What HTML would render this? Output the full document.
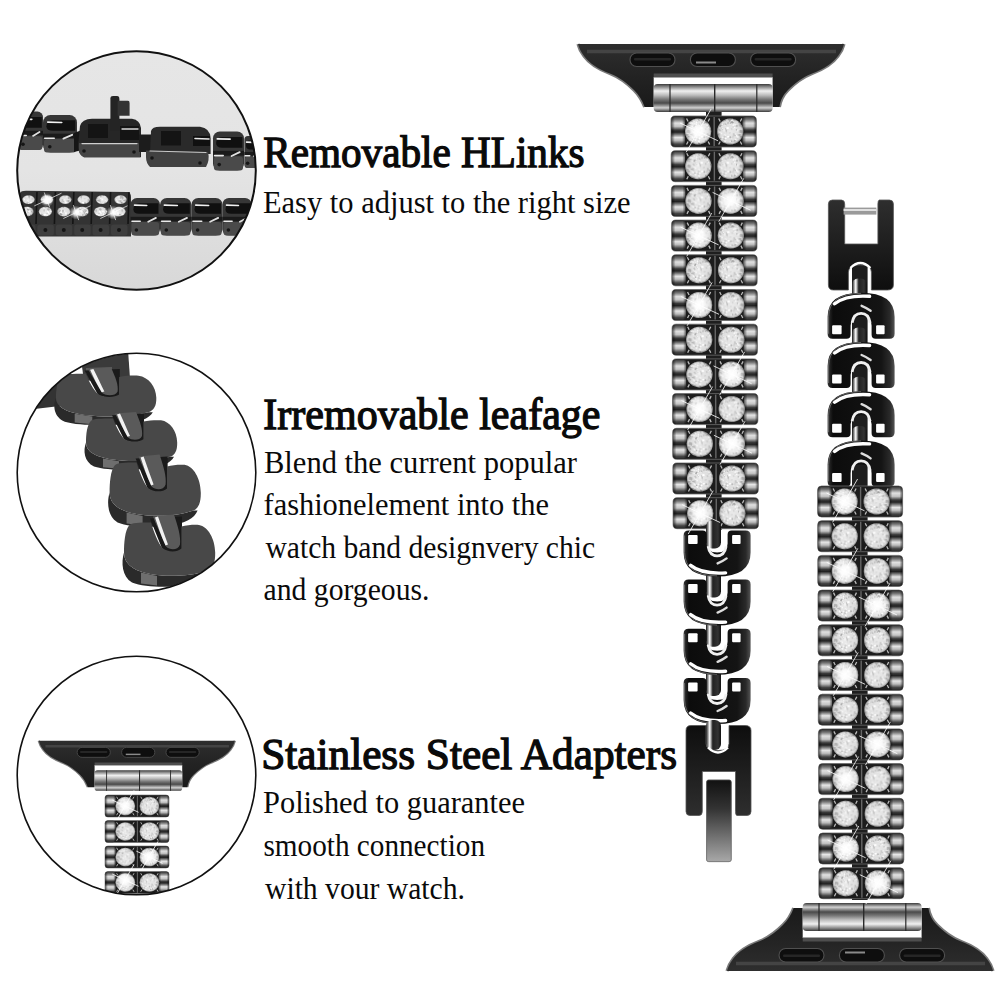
<!DOCTYPE html>
<html><head><meta charset="utf-8"><style>
html,body{margin:0;padding:0;background:#fff;width:1000px;height:1000px;overflow:hidden}
svg{display:block;font-family:"Liberation Serif",serif}
</style></head><body>
<svg width="1000" height="1000" viewBox="0 0 1000 1000">

<defs>
 <linearGradient id="cyl" x1="0" y1="0" x2="0" y2="1">
  <stop offset="0" stop-color="#333"/><stop offset="0.1" stop-color="#777"/>
  <stop offset="0.22" stop-color="#e0e0e0"/><stop offset="0.33" stop-color="#c4c4c4"/>
  <stop offset="0.45" stop-color="#3a3a3a"/><stop offset="0.52" stop-color="#222"/>
  <stop offset="0.6" stop-color="#777"/><stop offset="0.7" stop-color="#e6e6e6"/>
  <stop offset="0.8" stop-color="#bbb"/><stop offset="0.92" stop-color="#444"/><stop offset="1" stop-color="#2a2a2a"/>
 </linearGradient>
 <linearGradient id="cylh" x1="0" y1="0" x2="1" y2="0">
  <stop offset="0" stop-color="#000" stop-opacity="0.55"/><stop offset="0.25" stop-color="#000" stop-opacity="0"/>
  <stop offset="0.8" stop-color="#000" stop-opacity="0"/><stop offset="1" stop-color="#000" stop-opacity="0.5"/>
 </linearGradient>
 <linearGradient id="hinge" x1="0" y1="0" x2="0" y2="1">
  <stop offset="0" stop-color="#3a3a3a"/><stop offset="0.1" stop-color="#888"/>
  <stop offset="0.25" stop-color="#f0f0f0"/><stop offset="0.4" stop-color="#bcbcbc"/>
  <stop offset="0.55" stop-color="#777"/><stop offset="0.68" stop-color="#4a4a4a"/>
  <stop offset="0.85" stop-color="#d0d0d0"/><stop offset="1" stop-color="#3a3a3a"/>
 </linearGradient>
 <radialGradient id="dia" cx="0.5" cy="0.5" r="0.5">
  <stop offset="0" stop-color="#ffffff"/><stop offset="0.55" stop-color="#e6e6e6"/>
  <stop offset="0.85" stop-color="#c4c4c4"/><stop offset="1" stop-color="#8a8a8a"/>
 </radialGradient>
 <radialGradient id="glow" cx="0.5" cy="0.5" r="0.5">
  <stop offset="0" stop-color="#fff" stop-opacity="1"/><stop offset="0.35" stop-color="#fff" stop-opacity="0.85"/>
  <stop offset="0.7" stop-color="#fff" stop-opacity="0.35"/><stop offset="1" stop-color="#fff" stop-opacity="0"/>
 </radialGradient>
 <radialGradient id="diao" cx="0.5" cy="0.5" r="0.5">
  <stop offset="0" stop-color="#fff" stop-opacity="0.35"/><stop offset="0.6" stop-color="#fff" stop-opacity="0"/>
  <stop offset="0.88" stop-color="#000" stop-opacity="0.05"/><stop offset="1" stop-color="#000" stop-opacity="0.35"/>
 </radialGradient>
 <pattern id="spk" width="26" height="26" patternUnits="userSpaceOnUse"><rect width="26" height="26" fill="#e0e0e0"/><rect x="8.4" y="3.9" width="2.0" height="0.9" fill="#c8c8c8" transform="rotate(12 8.4 3.9)"/><rect x="9.5" y="1.5" width="1.8" height="0.9" fill="#ffffff" transform="rotate(53 9.5 1.5)"/><rect x="1.8" y="2.4" width="1.7" height="2.0" fill="#b0b0b0" transform="rotate(28 1.8 2.4)"/><rect x="16.4" y="15.2" width="1.1" height="1.6" fill="#a0a0a0" transform="rotate(28 16.4 15.2)"/><rect x="1.2" y="22.3" width="1.5" height="1.0" fill="#b0b0b0" transform="rotate(73 1.2 22.3)"/><rect x="8.0" y="21.2" width="1.3" height="1.6" fill="#ececec" transform="rotate(47 8.0 21.2)"/><rect x="2.5" y="18.5" width="1.9" height="1.7" fill="#ffffff" transform="rotate(87 2.5 18.5)"/><rect x="13.8" y="20.2" width="1.7" height="2.1" fill="#fafafa" transform="rotate(38 13.8 20.2)"/><rect x="6.5" y="4.7" width="2.2" height="0.9" fill="#f4f4f4" transform="rotate(67 6.5 4.7)"/><rect x="12.9" y="8.9" width="1.7" height="1.7" fill="#b0b0b0" transform="rotate(15 12.9 8.9)"/><rect x="13.3" y="4.3" width="1.5" height="2.1" fill="#ffffff" transform="rotate(5 13.3 4.3)"/><rect x="25.0" y="2.0" width="1.9" height="1.9" fill="#fafafa" transform="rotate(43 25.0 2.0)"/><rect x="18.1" y="15.5" width="1.9" height="1.4" fill="#b0b0b0" transform="rotate(34 18.1 15.5)"/><rect x="12.3" y="17.3" width="1.1" height="1.8" fill="#ffffff" transform="rotate(36 12.3 17.3)"/><rect x="18.6" y="23.1" width="1.6" height="2.1" fill="#fafafa" transform="rotate(21 18.6 23.1)"/><rect x="15.9" y="12.8" width="1.3" height="1.2" fill="#ececec" transform="rotate(50 15.9 12.8)"/><rect x="10.2" y="22.7" width="1.1" height="1.4" fill="#c8c8c8" transform="rotate(35 10.2 22.7)"/><rect x="23.0" y="21.3" width="2.4" height="1.2" fill="#ffffff" transform="rotate(45 23.0 21.3)"/><rect x="17.8" y="9.9" width="1.4" height="0.9" fill="#bcbcbc" transform="rotate(29 17.8 9.9)"/><rect x="17.1" y="0.3" width="2.3" height="1.1" fill="#f4f4f4" transform="rotate(0 17.1 0.3)"/><rect x="3.8" y="13.9" width="2.0" height="1.2" fill="#bcbcbc" transform="rotate(88 3.8 13.9)"/><rect x="22.3" y="24.7" width="2.0" height="1.8" fill="#ffffff" transform="rotate(87 22.3 24.7)"/><rect x="20.7" y="10.2" width="1.6" height="0.9" fill="#ffffff" transform="rotate(7 20.7 10.2)"/><rect x="5.0" y="25.6" width="1.7" height="1.0" fill="#a0a0a0" transform="rotate(13 5.0 25.6)"/><rect x="0.0" y="3.9" width="1.2" height="1.3" fill="#a0a0a0" transform="rotate(9 0.0 3.9)"/><rect x="22.7" y="16.0" width="1.2" height="1.2" fill="#fafafa" transform="rotate(77 22.7 16.0)"/><rect x="9.5" y="3.2" width="2.4" height="2.2" fill="#ffffff" transform="rotate(61 9.5 3.2)"/><rect x="12.6" y="2.2" width="1.2" height="1.3" fill="#f4f4f4" transform="rotate(61 12.6 2.2)"/><rect x="21.6" y="4.2" width="1.0" height="2.1" fill="#c8c8c8" transform="rotate(46 21.6 4.2)"/><rect x="3.8" y="14.1" width="1.0" height="1.5" fill="#b0b0b0" transform="rotate(89 3.8 14.1)"/><rect x="22.0" y="13.5" width="2.5" height="1.3" fill="#ececec" transform="rotate(68 22.0 13.5)"/><rect x="14.1" y="13.1" width="2.0" height="1.7" fill="#ececec" transform="rotate(30 14.1 13.1)"/><rect x="21.3" y="19.2" width="1.4" height="1.5" fill="#fafafa" transform="rotate(3 21.3 19.2)"/><rect x="25.7" y="20.5" width="1.8" height="1.1" fill="#fafafa" transform="rotate(57 25.7 20.5)"/><rect x="21.0" y="18.8" width="1.6" height="2.2" fill="#b0b0b0" transform="rotate(28 21.0 18.8)"/><rect x="2.7" y="12.2" width="1.5" height="1.5" fill="#a0a0a0" transform="rotate(61 2.7 12.2)"/><rect x="23.6" y="8.9" width="2.0" height="2.0" fill="#b0b0b0" transform="rotate(49 23.6 8.9)"/><rect x="20.3" y="19.5" width="1.8" height="1.0" fill="#fafafa" transform="rotate(11 20.3 19.5)"/><rect x="20.8" y="25.3" width="1.6" height="1.4" fill="#b0b0b0" transform="rotate(20 20.8 25.3)"/><rect x="4.4" y="3.3" width="1.2" height="2.1" fill="#bcbcbc" transform="rotate(78 4.4 3.3)"/><rect x="21.5" y="25.5" width="2.1" height="1.3" fill="#c8c8c8" transform="rotate(70 21.5 25.5)"/><rect x="3.4" y="0.4" width="2.6" height="1.7" fill="#c8c8c8" transform="rotate(17 3.4 0.4)"/><rect x="11.3" y="22.7" width="2.3" height="1.1" fill="#f4f4f4" transform="rotate(27 11.3 22.7)"/><rect x="7.6" y="6.3" width="1.9" height="1.2" fill="#ffffff" transform="rotate(16 7.6 6.3)"/><rect x="1.6" y="19.2" width="2.4" height="1.7" fill="#c8c8c8" transform="rotate(53 1.6 19.2)"/><rect x="21.5" y="22.8" width="1.2" height="1.0" fill="#c8c8c8" transform="rotate(2 21.5 22.8)"/><rect x="22.7" y="20.2" width="2.0" height="1.9" fill="#bcbcbc" transform="rotate(22 22.7 20.2)"/><rect x="3.7" y="16.1" width="1.2" height="0.9" fill="#c8c8c8" transform="rotate(67 3.7 16.1)"/><rect x="14.4" y="20.4" width="1.2" height="1.6" fill="#ececec" transform="rotate(24 14.4 20.4)"/><rect x="7.2" y="20.1" width="1.8" height="1.6" fill="#b0b0b0" transform="rotate(56 7.2 20.1)"/><rect x="8.5" y="25.3" width="2.0" height="1.1" fill="#f4f4f4" transform="rotate(57 8.5 25.3)"/><rect x="13.2" y="21.0" width="1.8" height="1.1" fill="#c8c8c8" transform="rotate(33 13.2 21.0)"/><rect x="24.0" y="23.2" width="1.3" height="1.4" fill="#ffffff" transform="rotate(15 24.0 23.2)"/><rect x="10.2" y="8.2" width="2.1" height="1.4" fill="#ececec" transform="rotate(85 10.2 8.2)"/><rect x="7.9" y="3.2" width="2.2" height="2.1" fill="#fafafa" transform="rotate(18 7.9 3.2)"/><rect x="6.6" y="3.6" width="1.7" height="1.8" fill="#b0b0b0" transform="rotate(50 6.6 3.6)"/><rect x="23.0" y="4.2" width="2.1" height="1.1" fill="#ffffff" transform="rotate(65 23.0 4.2)"/><rect x="10.5" y="11.0" width="1.6" height="0.9" fill="#fafafa" transform="rotate(2 10.5 11.0)"/><rect x="8.8" y="11.9" width="2.1" height="1.3" fill="#c8c8c8" transform="rotate(79 8.8 11.9)"/><rect x="7.7" y="25.0" width="1.2" height="2.1" fill="#ececec" transform="rotate(13 7.7 25.0)"/><rect x="2.2" y="7.1" width="2.4" height="1.1" fill="#bcbcbc" transform="rotate(54 2.2 7.1)"/><rect x="22.1" y="17.6" width="2.5" height="1.4" fill="#c8c8c8" transform="rotate(65 22.1 17.6)"/><rect x="14.8" y="18.2" width="1.1" height="0.9" fill="#bcbcbc" transform="rotate(54 14.8 18.2)"/><rect x="23.3" y="7.0" width="1.0" height="0.9" fill="#f4f4f4" transform="rotate(10 23.3 7.0)"/><rect x="15.8" y="5.8" width="1.4" height="1.0" fill="#a0a0a0" transform="rotate(43 15.8 5.8)"/><rect x="25.9" y="10.9" width="2.5" height="1.7" fill="#a0a0a0" transform="rotate(67 25.9 10.9)"/><rect x="18.4" y="24.4" width="2.6" height="1.2" fill="#bcbcbc" transform="rotate(25 18.4 24.4)"/><rect x="24.2" y="16.3" width="1.8" height="1.1" fill="#ffffff" transform="rotate(64 24.2 16.3)"/><rect x="17.5" y="7.0" width="2.3" height="2.2" fill="#a0a0a0" transform="rotate(1 17.5 7.0)"/><rect x="0.5" y="13.1" width="2.6" height="1.5" fill="#ececec" transform="rotate(57 0.5 13.1)"/><rect x="2.8" y="21.3" width="1.7" height="1.5" fill="#ffffff" transform="rotate(64 2.8 21.3)"/><rect x="8.0" y="5.6" width="1.4" height="1.1" fill="#bcbcbc" transform="rotate(51 8.0 5.6)"/><rect x="25.7" y="25.5" width="2.3" height="0.8" fill="#f4f4f4" transform="rotate(55 25.7 25.5)"/><rect x="4.2" y="2.2" width="2.3" height="2.0" fill="#f4f4f4" transform="rotate(76 4.2 2.2)"/><rect x="6.3" y="7.6" width="1.7" height="1.0" fill="#ffffff" transform="rotate(0 6.3 7.6)"/><rect x="6.8" y="25.0" width="2.6" height="1.6" fill="#ececec" transform="rotate(4 6.8 25.0)"/><rect x="25.1" y="8.0" width="1.6" height="0.8" fill="#ffffff" transform="rotate(10 25.1 8.0)"/><rect x="12.3" y="13.1" width="1.3" height="1.5" fill="#a0a0a0" transform="rotate(11 12.3 13.1)"/><rect x="6.9" y="2.3" width="1.6" height="0.9" fill="#a0a0a0" transform="rotate(38 6.9 2.3)"/><rect x="7.9" y="6.1" width="1.9" height="1.5" fill="#bcbcbc" transform="rotate(84 7.9 6.1)"/><rect x="23.2" y="20.4" width="2.0" height="1.9" fill="#ffffff" transform="rotate(19 23.2 20.4)"/><rect x="7.4" y="16.1" width="1.2" height="2.0" fill="#c8c8c8" transform="rotate(80 7.4 16.1)"/><rect x="11.2" y="18.2" width="1.8" height="2.1" fill="#c8c8c8" transform="rotate(72 11.2 18.2)"/><rect x="21.7" y="20.9" width="2.3" height="1.6" fill="#ececec" transform="rotate(10 21.7 20.9)"/><rect x="0.8" y="3.5" width="1.6" height="0.9" fill="#ffffff" transform="rotate(71 0.8 3.5)"/><rect x="1.3" y="0.5" width="1.9" height="1.1" fill="#f4f4f4" transform="rotate(0 1.3 0.5)"/><rect x="11.9" y="1.8" width="2.5" height="2.1" fill="#b0b0b0" transform="rotate(84 11.9 1.8)"/><rect x="13.7" y="19.4" width="1.8" height="1.9" fill="#f4f4f4" transform="rotate(30 13.7 19.4)"/><rect x="19.0" y="5.3" width="2.2" height="2.2" fill="#ffffff" transform="rotate(48 19.0 5.3)"/><rect x="2.0" y="23.7" width="1.5" height="0.9" fill="#ececec" transform="rotate(9 2.0 23.7)"/><rect x="15.6" y="8.6" width="2.0" height="1.8" fill="#bcbcbc" transform="rotate(1 15.6 8.6)"/><rect x="12.5" y="12.6" width="2.6" height="0.9" fill="#ececec" transform="rotate(86 12.5 12.6)"/><rect x="12.7" y="18.4" width="1.5" height="1.5" fill="#b0b0b0" transform="rotate(70 12.7 18.4)"/><rect x="5.2" y="25.4" width="2.5" height="0.8" fill="#ffffff" transform="rotate(9 5.2 25.4)"/><rect x="21.3" y="25.2" width="1.7" height="1.2" fill="#ececec" transform="rotate(26 21.3 25.2)"/><rect x="1.9" y="2.3" width="2.2" height="1.2" fill="#fafafa" transform="rotate(16 1.9 2.3)"/><rect x="15.7" y="16.4" width="1.4" height="1.0" fill="#fafafa" transform="rotate(29 15.7 16.4)"/><rect x="12.9" y="22.8" width="1.6" height="1.0" fill="#ffffff" transform="rotate(87 12.9 22.8)"/><rect x="11.7" y="7.9" width="1.2" height="1.3" fill="#fafafa" transform="rotate(15 11.7 7.9)"/><rect x="21.8" y="0.0" width="2.2" height="2.0" fill="#b0b0b0" transform="rotate(25 21.8 0.0)"/><rect x="18.5" y="23.4" width="1.5" height="1.3" fill="#ffffff" transform="rotate(49 18.5 23.4)"/><rect x="26.0" y="15.3" width="1.6" height="1.4" fill="#f4f4f4" transform="rotate(6 26.0 15.3)"/><rect x="7.3" y="1.3" width="2.1" height="1.7" fill="#bcbcbc" transform="rotate(31 7.3 1.3)"/><rect x="25.2" y="11.3" width="1.5" height="1.9" fill="#ffffff" transform="rotate(3 25.2 11.3)"/><rect x="21.1" y="16.4" width="2.5" height="2.1" fill="#c8c8c8" transform="rotate(26 21.1 16.4)"/><rect x="18.7" y="1.3" width="2.2" height="1.4" fill="#bcbcbc" transform="rotate(82 18.7 1.3)"/><rect x="22.6" y="12.6" width="2.5" height="1.6" fill="#bcbcbc" transform="rotate(60 22.6 12.6)"/><rect x="10.8" y="7.3" width="1.4" height="1.8" fill="#f4f4f4" transform="rotate(51 10.8 7.3)"/><rect x="17.1" y="7.8" width="1.9" height="1.4" fill="#bcbcbc" transform="rotate(82 17.1 7.8)"/><rect x="4.2" y="5.4" width="2.4" height="1.5" fill="#ececec" transform="rotate(57 4.2 5.4)"/><rect x="23.6" y="25.9" width="1.7" height="1.0" fill="#ececec" transform="rotate(31 23.6 25.9)"/><rect x="2.4" y="8.9" width="1.1" height="1.1" fill="#f4f4f4" transform="rotate(72 2.4 8.9)"/><rect x="5.3" y="0.5" width="2.4" height="1.3" fill="#c8c8c8" transform="rotate(26 5.3 0.5)"/><rect x="9.8" y="8.8" width="1.1" height="1.2" fill="#fafafa" transform="rotate(16 9.8 8.8)"/><rect x="17.9" y="13.8" width="2.3" height="2.0" fill="#b0b0b0" transform="rotate(34 17.9 13.8)"/><rect x="23.3" y="10.0" width="2.0" height="1.4" fill="#f4f4f4" transform="rotate(2 23.3 10.0)"/><rect x="3.3" y="11.1" width="2.2" height="1.9" fill="#ffffff" transform="rotate(0 3.3 11.1)"/><rect x="1.9" y="24.2" width="2.5" height="1.5" fill="#ffffff" transform="rotate(57 1.9 24.2)"/><rect x="6.5" y="2.8" width="1.2" height="1.5" fill="#b0b0b0" transform="rotate(89 6.5 2.8)"/><rect x="16.8" y="19.9" width="1.7" height="1.6" fill="#a0a0a0" transform="rotate(0 16.8 19.9)"/><rect x="20.3" y="6.0" width="2.5" height="1.7" fill="#f4f4f4" transform="rotate(16 20.3 6.0)"/><rect x="16.3" y="13.7" width="1.7" height="1.9" fill="#b0b0b0" transform="rotate(9 16.3 13.7)"/><rect x="7.8" y="24.5" width="1.3" height="1.2" fill="#a0a0a0" transform="rotate(1 7.8 24.5)"/><rect x="14.0" y="25.9" width="1.4" height="1.2" fill="#ececec" transform="rotate(60 14.0 25.9)"/><rect x="13.7" y="14.2" width="1.0" height="1.4" fill="#f4f4f4" transform="rotate(7 13.7 14.2)"/><rect x="0.6" y="13.0" width="2.1" height="1.4" fill="#f4f4f4" transform="rotate(29 0.6 13.0)"/><rect x="17.4" y="24.1" width="1.4" height="0.8" fill="#fafafa" transform="rotate(53 17.4 24.1)"/><rect x="9.4" y="10.3" width="1.0" height="1.2" fill="#c8c8c8" transform="rotate(8 9.4 10.3)"/><rect x="5.3" y="25.2" width="1.5" height="1.9" fill="#ececec" transform="rotate(59 5.3 25.2)"/><rect x="5.8" y="19.8" width="1.5" height="2.1" fill="#ffffff" transform="rotate(78 5.8 19.8)"/><rect x="4.9" y="5.8" width="1.7" height="1.7" fill="#bcbcbc" transform="rotate(50 4.9 5.8)"/><rect x="1.4" y="0.6" width="2.0" height="1.4" fill="#a0a0a0" transform="rotate(23 1.4 0.6)"/><rect x="10.2" y="23.4" width="2.4" height="1.8" fill="#b0b0b0" transform="rotate(21 10.2 23.4)"/><rect x="8.6" y="4.8" width="2.5" height="1.8" fill="#a0a0a0" transform="rotate(39 8.6 4.8)"/><rect x="17.3" y="9.8" width="1.6" height="1.3" fill="#bcbcbc" transform="rotate(13 17.3 9.8)"/><rect x="0.1" y="7.3" width="1.6" height="2.1" fill="#b0b0b0" transform="rotate(71 0.1 7.3)"/><rect x="25.1" y="5.4" width="1.6" height="2.0" fill="#ffffff" transform="rotate(11 25.1 5.4)"/><rect x="1.3" y="12.3" width="1.6" height="2.1" fill="#ececec" transform="rotate(41 1.3 12.3)"/><rect x="9.5" y="23.3" width="1.0" height="1.4" fill="#ffffff" transform="rotate(5 9.5 23.3)"/><rect x="9.8" y="12.1" width="2.3" height="0.9" fill="#ececec" transform="rotate(8 9.8 12.1)"/><rect x="23.4" y="8.8" width="1.4" height="2.1" fill="#a0a0a0" transform="rotate(33 23.4 8.8)"/><rect x="19.4" y="17.9" width="2.5" height="1.2" fill="#b0b0b0" transform="rotate(3 19.4 17.9)"/><rect x="21.5" y="2.8" width="2.1" height="1.5" fill="#ffffff" transform="rotate(32 21.5 2.8)"/><rect x="23.8" y="21.2" width="1.2" height="1.5" fill="#a0a0a0" transform="rotate(38 23.8 21.2)"/><rect x="21.4" y="20.1" width="2.0" height="1.3" fill="#fafafa" transform="rotate(58 21.4 20.1)"/><rect x="9.4" y="20.3" width="1.1" height="1.1" fill="#bcbcbc" transform="rotate(31 9.4 20.3)"/><rect x="10.6" y="16.9" width="1.8" height="1.6" fill="#bcbcbc" transform="rotate(54 10.6 16.9)"/><rect x="23.0" y="25.7" width="1.4" height="0.9" fill="#b0b0b0" transform="rotate(53 23.0 25.7)"/><rect x="13.0" y="18.5" width="1.7" height="1.1" fill="#ffffff" transform="rotate(58 13.0 18.5)"/><rect x="16.1" y="17.5" width="2.2" height="2.0" fill="#b0b0b0" transform="rotate(37 16.1 17.5)"/></pattern>
 <linearGradient id="adp" x1="0" y1="0" x2="0" y2="1">
  <stop offset="0" stop-color="#2e2e2e"/><stop offset="0.5" stop-color="#232323"/>
  <stop offset="1" stop-color="#1a1a1a"/>
 </linearGradient>
 <linearGradient id="blk" x1="0" y1="0" x2="1" y2="0">
  <stop offset="0" stop-color="#333"/><stop offset="0.08" stop-color="#0c0c0c"/>
  <stop offset="0.8" stop-color="#141414"/><stop offset="0.93" stop-color="#2a2a2a"/><stop offset="1" stop-color="#555"/>
 </linearGradient>
 <linearGradient id="Hg" x1="0" y1="0" x2="0" y2="1">
  <stop offset="0" stop-color="#0e0e0e"/><stop offset="1" stop-color="#2e2e2e"/>
 </linearGradient>
 <linearGradient id="tongue" x1="0" y1="0" x2="0" y2="1">
  <stop offset="0" stop-color="#111"/><stop offset="0.35" stop-color="#333"/>
  <stop offset="1" stop-color="#a8a8a8"/>
 </linearGradient>
 <linearGradient id="post" x1="0" y1="0" x2="1" y2="0">
  <stop offset="0" stop-color="#111"/><stop offset="0.25" stop-color="#fff"/>
  <stop offset="0.45" stop-color="#222"/><stop offset="0.8" stop-color="#333"/><stop offset="1" stop-color="#111"/>
 </linearGradient>
 <linearGradient id="c1bg" x1="0" y1="0" x2="0" y2="1">
  <stop offset="0" stop-color="#e6e6e6"/><stop offset="0.5" stop-color="#e4e4e4"/><stop offset="1" stop-color="#d8d8d8"/>
 </linearGradient>
 <clipPath id="c1"><circle cx="136.5" cy="170.5" r="119"/></clipPath>
 <clipPath id="c2"><circle cx="136.5" cy="472.5" r="119"/></clipPath>
 <clipPath id="c3"><circle cx="136.5" cy="775.5" r="119"/></clipPath>

 <!-- diamond link 85x31 -->
 <g id="dlink">
  <rect x="0" y="0" width="85" height="31" rx="4" fill="#1c1c1c" stroke="#6a6a6a" stroke-width="0.8"/>
  <rect x="0.5" y="0.5" width="13.2" height="30" rx="3" fill="url(#cyl)"/>
  <rect x="0.5" y="0.5" width="13.2" height="30" rx="3" fill="url(#cylh)"/>
  <rect x="71.5" y="0.5" width="13" height="30" rx="3" fill="url(#cyl)"/>
  <rect x="71.5" y="0.5" width="13" height="30" rx="3" fill="url(#cylh)"/>
  <circle cx="27" cy="15.5" r="13" fill="url(#spk)"/>
  <circle cx="59" cy="15.5" r="13" fill="url(#spk)"/>
  <circle cx="27" cy="15.5" r="13" fill="url(#diao)"/>
  <circle cx="59" cy="15.5" r="13" fill="url(#diao)"/>
  <rect x="42.3" y="1" width="1.4" height="29" fill="#666"/>
  <path d="M15.5,2.5 l1.5,3 M38.5,2.5 l-1.5,3 M15.5,28.5 l1.5,-3 M38.5,28.5 l-1.5,-3 M47.5,2.5 l1.5,3 M70.5,2.5 l-1.5,3 M47.5,28.5 l1.5,-3 M70.5,28.5 l-1.5,-3" stroke="#bbb" stroke-width="1.3"/>
 </g>

 <!-- adapter 266 wide, origin top-left -->
 <g id="adapter">
  <path d="M0,0 C1,4 3,8 6,12 C11,19 20,25 32.5,29.7 C42,33.5 50,40 56,46 C61,51 64,56 66.7,63 M266,0 C265,4 263,8 260,12 C255,19 246,25 233.5,29.7 C224,33.5 216,40 210,46 C205,51 202.5,56 201.4,63" stroke="#7a7a7a" stroke-width="3.2" fill="none"/>
  <path d="M0,0 L266,0 C265,4 263,8 260,12 C255,19 246,25 233.5,29.7 C224,33.5 216,40 210,46 C205,51 202.5,56 201.4,63 L194.6,63 L194.6,33 L75.7,33 L75.7,63 L66.7,63 C64,56 61,51 56,46 C50,40 42,33.5 32.5,29.7 C20,25 11,19 6,12 C3,8 1,4 0,0 Z" fill="url(#adp)"/>
  <path d="M9,7.5 L258,7.5" stroke="#444" stroke-width="3.4"/>
  <rect x="52" y="9" width="45" height="13.5" rx="6.7" fill="#0e0e0e" stroke="#505050" stroke-width="1.1"/>
  <rect x="112.4" y="9" width="45" height="13.5" rx="6.7" fill="#0e0e0e" stroke="#505050" stroke-width="1.1"/>
  <rect x="172.6" y="9" width="45" height="13.5" rx="6.7" fill="#0e0e0e" stroke="#505050" stroke-width="1.1"/>
  <rect x="56" y="14" width="37" height="2.5" rx="1" fill="#262626"/>
  <rect x="176.6" y="14" width="37" height="2.5" rx="1" fill="#262626"/>
  <rect x="118" y="17.5" width="20" height="2" fill="#8a8a8a"/>
  <rect x="75.7" y="29.5" width="118.9" height="4" fill="#4e4e4e"/>
  <rect x="75.7" y="40" width="118.9" height="28" rx="4" fill="url(#hinge)"/>
  <rect x="91.4" y="40" width="1.2" height="28" fill="#2a2a2a"/>
  <rect x="136" y="40" width="1.4" height="28" fill="#2a2a2a"/>
  <rect x="178.2" y="40" width="1.2" height="28" fill="#2a2a2a"/>
 </g>

 <!-- leaf U link 67x46, opening up -->
 <g id="leaf">
  <path d="M0,5 Q0,0 5,0 L19,0 Q23,0 23,4 L23,13 Q23,22 33.5,22 Q44,22 44,13 L44,4 Q44,0 48,0 L62,0 Q67,0 67,5 L67,22 Q67,46 33.5,46 Q0,46 0,22 Z" fill="url(#blk)"/>
  <path d="M1,5 L1,22 Q1,45 33.5,45.5" stroke="#777" stroke-width="0.8" fill="none"/>
  <rect x="4.5" y="4.5" width="9.5" height="9" rx="1" fill="#fff"/>
  <rect x="48.5" y="4.5" width="8.5" height="9" rx="1" fill="#fff"/>
  <path d="M7,35 Q18,44 42,42.5" stroke="#fff" stroke-width="3.4" fill="none" stroke-linecap="round"/>
  <path d="M24.5,16 Q26,25.5 33.5,25.5 Q41,25.5 42.5,16" stroke="#f0f0f0" stroke-width="2.8" fill="none"/>
  <path d="M34,33 Q39,31 43,28" stroke="#ddd" stroke-width="2.4" fill="none" stroke-linecap="round"/>
 </g>

 <!-- H clasp 65x90 notch at top, window at bottom -->
 <g id="hclasp">
  <path d="M0,5 Q0,0 5,0 L20,0 L20,18 Q20,25 32,25 Q43,25 43,18 L43,0 L59,0 Q65,0 65,5 L65,86 Q65,90 61,90 L51,90 Q49.5,90 49.5,86 L49.5,46 L16.3,46 L16.3,86 Q16.3,90 13,90 L4,90 Q0,90 0,86 Z" fill="url(#Hg)" stroke="#555" stroke-width="0.8"/>
  <path d="M22,22 Q32,32 42,22" stroke="#fff" stroke-width="2.4" fill="none"/>
 </g>
</defs>
<circle cx="136.5" cy="170.5" r="119" fill="url(#c1bg)"/>
<g clip-path="url(#c1)">
<rect x="18" y="111.6" width="25" height="38.5" rx="5.5" fill="#363636"/>
<path d="M20.5,123.1 Q20.5,117 25.5,117 L41.8,117 L41.8,127.8 L25.5,127.8 Q20.5,127.8 20.5,123.1 Z" fill="#101010"/>
<path d="M21.5,118.9 L31.8,119.3" stroke="#f0f0f0" stroke-width="1.7" stroke-linecap="round"/>
<rect x="18" y="130.8" width="25" height="4.6" fill="#1a1a1a"/>
<rect x="18.8" y="136.2" width="23.5" height="13.9" rx="3" fill="#4a4a4a"/>
<path d="M19.2,135.5 L26.2,135.5" stroke="#e8e8e8" stroke-width="1.6" stroke-linecap="round"/>
<path d="M33,135.9 L39.5,132" stroke="#e0e0e0" stroke-width="1.8" stroke-linecap="round"/>
<circle cx="23" cy="144.3" r="1.8" fill="#151515"/>
<rect x="43" y="115" width="34" height="37.4" rx="7.5" fill="#363636"/>
<path d="M46.4,126.2 Q46.4,120.2 53.2,120.2 L75.3,120.2 L75.3,130.7 L53.2,130.7 Q46.4,130.7 46.4,126.2 Z" fill="#101010"/>
<path d="M47.8,122.1 L61.7,122.5" stroke="#f0f0f0" stroke-width="1.7" stroke-linecap="round"/>
<rect x="43" y="133.7" width="34" height="4.5" fill="#1a1a1a"/>
<rect x="44" y="138.9" width="32" height="13.5" rx="3" fill="#4a4a4a"/>
<path d="M44.7,138.2 L54.2,138.2" stroke="#e8e8e8" stroke-width="1.6" stroke-linecap="round"/>
<path d="M63.4,138.6 L72.2,134.8" stroke="#e0e0e0" stroke-width="1.8" stroke-linecap="round"/>
<circle cx="49.8" cy="146.8" r="1.8" fill="#151515"/>
<path d="M74,133 L82,130 L82,150 L74,152 Z" fill="#151515"/>
<path d="M80,126 Q82,119 92,118.8 L132,118.8 Q140,120 141,128 L141,157.2 L84,157.2 Q78,154 78,146 Z" fill="#262626"/>
<path d="M88,124 L108,124 L108,138 L88,138 Z" fill="#141414"/>
<path d="M120,126 L139,126 L139,140 L120,140 Z" fill="#141414"/>
<path d="M122,129 L138,129" stroke="#d8d8d8" stroke-width="1.4" stroke-linecap="round"/>
<path d="M79,143 L140,143 L140,157.2 L84,157.2 Q79,155 79,150 Z" fill="#454545"/>
<path d="M82,143.6 L137,143.6" stroke="#cfcfcf" stroke-width="1.2" stroke-linecap="round"/>
<circle cx="84" cy="151" r="1.8" fill="#151515"/>
<circle cx="134" cy="152" r="1.8" fill="#151515"/>
<path d="M110.4,98 Q110.4,96 113,96 L117,96 Q119.4,96 119.4,99 L119.4,131 L110.4,131 Z" fill="#242424"/>
<path d="M117.6,102 Q117.6,100.8 119,100.8 L128,100.8 Q129.6,100.8 129.6,103 L129.6,115.8 L117.6,115.8 Z" fill="#333"/>
<path d="M139,134.5 L152,134.5 L152,152 L139,152 Z" fill="#1c1c1c"/>
<path d="M151,131 Q152,126.7 160,126.7 L200,126.7 Q210,128 210.6,138 L210.6,154 L150,154 Z" fill="#2a2a2a"/>
<path d="M161,131 L181,131 L181,145.5 L161,145.5 Z" fill="#141414"/>
<path d="M193,136 L210,136 L210,146 L193,146 Z" fill="#101010"/>
<path d="M195,138.5 L209,139" stroke="#e6e6e6" stroke-width="1.6" stroke-linecap="round"/>
<path d="M146,150.5 L208,152 Q210,160 206,167 L150,167 Q146,163 146,157 Z" fill="#414141"/>
<path d="M150,151 L206,152.5" stroke="#c8c8c8" stroke-width="1.2" stroke-linecap="round"/>
<circle cx="152" cy="158" r="1.8" fill="#151515"/>
<circle cx="200" cy="163" r="1.8" fill="#151515"/>
<rect x="213" y="131.4" width="31" height="39" rx="6.8" fill="#363636"/>
<path d="M216.1,143.1 Q216.1,136.9 222.3,136.9 L242.4,136.9 L242.4,147.8 L222.3,147.8 Q216.1,147.8 216.1,143.1 Z" fill="#101010"/>
<path d="M217.3,138.8 L230.1,139.2" stroke="#f0f0f0" stroke-width="1.7" stroke-linecap="round"/>
<rect x="213" y="150.9" width="31" height="4.7" fill="#1a1a1a"/>
<rect x="213.9" y="156.4" width="29.1" height="14" rx="3" fill="#4a4a4a"/>
<path d="M214.6,155.6 L223.2,155.6" stroke="#e8e8e8" stroke-width="1.6" stroke-linecap="round"/>
<path d="M231.6,156 L239.7,152.1" stroke="#e0e0e0" stroke-width="1.8" stroke-linecap="round"/>
<circle cx="219.2" cy="164.6" r="1.8" fill="#151515"/>
<rect x="244.4" y="136" width="16" height="32" rx="3.5" fill="#363636"/>
<path d="M246,145.6 Q246,140.5 249.2,140.5 L259.6,140.5 L259.6,149.4 L249.2,149.4 Q246,149.4 246,145.6 Z" fill="#101010"/>
<path d="M246.6,142.1 L253.2,142.4" stroke="#f0f0f0" stroke-width="1.7" stroke-linecap="round"/>
<rect x="244.4" y="152" width="16" height="3.8" fill="#1a1a1a"/>
<rect x="244.9" y="156.5" width="15" height="11.5" rx="3" fill="#4a4a4a"/>
<path d="M245.2,155.8 L249.7,155.8" stroke="#e8e8e8" stroke-width="1.6" stroke-linecap="round"/>
<path d="M254,156.2 L258.2,153" stroke="#e0e0e0" stroke-width="1.8" stroke-linecap="round"/>
<circle cx="247.6" cy="163.2" r="1.8" fill="#151515"/>
<path d="M20,193 Q21,190.8 26,190.8 L128,192 Q131,193 131,197 L131,236.4 L22,236.4 Q19.8,234 19.8,230 Z" fill="#333"/>
<ellipse cx="28.5" cy="199.6" rx="6.2" ry="4.4" fill="url(#spk)"/>
<ellipse cx="27" cy="211.6" rx="6.6" ry="4.8" fill="url(#spk)"/>
<ellipse cx="28.5" cy="199.6" rx="6.2" ry="4.4" fill="url(#diao)"/>
<ellipse cx="27" cy="211.6" rx="6.6" ry="4.8" fill="url(#diao)"/>
<rect x="19" y="224.6" width="16.5" height="11" rx="2.5" fill="#3e3e3e"/>
<circle cx="27" cy="230" r="2" fill="#151515"/>
<path d="M37,192 L36,224" stroke="#141414" stroke-width="1.6"/>
<ellipse cx="46.9" cy="199.6" rx="6.2" ry="4.4" fill="url(#spk)"/>
<ellipse cx="45.4" cy="211.6" rx="6.6" ry="4.8" fill="url(#spk)"/>
<ellipse cx="46.9" cy="199.6" rx="6.2" ry="4.4" fill="url(#diao)"/>
<ellipse cx="45.4" cy="211.6" rx="6.6" ry="4.8" fill="url(#diao)"/>
<rect x="37.4" y="224.6" width="16.5" height="11" rx="2.5" fill="#3e3e3e"/>
<circle cx="45.4" cy="230" r="2" fill="#151515"/>
<path d="M55.4,192 L54.4,224" stroke="#141414" stroke-width="1.6"/>
<ellipse cx="65.3" cy="199.6" rx="6.2" ry="4.4" fill="url(#spk)"/>
<ellipse cx="63.8" cy="211.6" rx="6.6" ry="4.8" fill="url(#spk)"/>
<ellipse cx="65.3" cy="199.6" rx="6.2" ry="4.4" fill="url(#diao)"/>
<ellipse cx="63.8" cy="211.6" rx="6.6" ry="4.8" fill="url(#diao)"/>
<rect x="55.8" y="224.6" width="16.5" height="11" rx="2.5" fill="#3e3e3e"/>
<circle cx="63.8" cy="230" r="2" fill="#151515"/>
<path d="M73.8,192 L72.8,224" stroke="#141414" stroke-width="1.6"/>
<ellipse cx="83.7" cy="199.6" rx="6.2" ry="4.4" fill="url(#spk)"/>
<ellipse cx="82.2" cy="211.6" rx="6.6" ry="4.8" fill="url(#spk)"/>
<ellipse cx="83.7" cy="199.6" rx="6.2" ry="4.4" fill="url(#diao)"/>
<ellipse cx="82.2" cy="211.6" rx="6.6" ry="4.8" fill="url(#diao)"/>
<rect x="74.2" y="224.6" width="16.5" height="11" rx="2.5" fill="#3e3e3e"/>
<circle cx="82.2" cy="230" r="2" fill="#151515"/>
<path d="M92.2,192 L91.2,224" stroke="#141414" stroke-width="1.6"/>
<ellipse cx="102.1" cy="199.6" rx="6.2" ry="4.4" fill="url(#spk)"/>
<ellipse cx="100.6" cy="211.6" rx="6.6" ry="4.8" fill="url(#spk)"/>
<ellipse cx="102.1" cy="199.6" rx="6.2" ry="4.4" fill="url(#diao)"/>
<ellipse cx="100.6" cy="211.6" rx="6.6" ry="4.8" fill="url(#diao)"/>
<rect x="92.6" y="224.6" width="16.5" height="11" rx="2.5" fill="#3e3e3e"/>
<circle cx="100.6" cy="230" r="2" fill="#151515"/>
<path d="M110.6,192 L109.6,224" stroke="#141414" stroke-width="1.6"/>
<ellipse cx="120.5" cy="199.6" rx="6.2" ry="4.4" fill="url(#spk)"/>
<ellipse cx="119" cy="211.6" rx="6.6" ry="4.8" fill="url(#spk)"/>
<ellipse cx="120.5" cy="199.6" rx="6.2" ry="4.4" fill="url(#diao)"/>
<ellipse cx="119" cy="211.6" rx="6.6" ry="4.8" fill="url(#diao)"/>
<rect x="111" y="224.6" width="16.5" height="11" rx="2.5" fill="#3e3e3e"/>
<circle cx="119" cy="230" r="2" fill="#151515"/>
<path d="M129,192 L128,224" stroke="#141414" stroke-width="1.6"/>
<rect x="130.5" y="198" width="29.5" height="37.6" rx="6.5" fill="#363636"/>
<path d="M133.4,209.3 Q133.4,203.3 139.3,203.3 L158.5,203.3 L158.5,213.8 L139.3,213.8 Q133.4,213.8 133.4,209.3 Z" fill="#101010"/>
<path d="M134.6,205.1 L146.7,205.5" stroke="#f0f0f0" stroke-width="1.7" stroke-linecap="round"/>
<rect x="130.5" y="216.8" width="29.5" height="4.5" fill="#1a1a1a"/>
<rect x="131.4" y="222.1" width="27.7" height="13.5" rx="3" fill="#4a4a4a"/>
<path d="M132,221.3 L140.2,221.3" stroke="#e8e8e8" stroke-width="1.6" stroke-linecap="round"/>
<path d="M148.2,221.7 L155.9,217.9" stroke="#e0e0e0" stroke-width="1.8" stroke-linecap="round"/>
<circle cx="136.4" cy="230" r="1.8" fill="#151515"/>
<rect x="160" y="198" width="31.4" height="37.6" rx="6.9" fill="#363636"/>
<path d="M163.1,209.3 Q163.1,203.3 169.4,203.3 L189.8,203.3 L189.8,213.8 L169.4,213.8 Q163.1,213.8 163.1,209.3 Z" fill="#101010"/>
<path d="M164.4,205.1 L177.3,205.5" stroke="#f0f0f0" stroke-width="1.7" stroke-linecap="round"/>
<rect x="160" y="216.8" width="31.4" height="4.5" fill="#1a1a1a"/>
<rect x="160.9" y="222.1" width="29.5" height="13.5" rx="3" fill="#4a4a4a"/>
<path d="M161.6,221.3 L170.4,221.3" stroke="#e8e8e8" stroke-width="1.6" stroke-linecap="round"/>
<path d="M178.8,221.7 L187,217.9" stroke="#e0e0e0" stroke-width="1.8" stroke-linecap="round"/>
<circle cx="166.3" cy="230" r="1.8" fill="#151515"/>
<rect x="191.4" y="198" width="31.2" height="37.6" rx="6.9" fill="#363636"/>
<path d="M194.5,209.3 Q194.5,203.3 200.8,203.3 L221,203.3 L221,213.8 L200.8,213.8 Q194.5,213.8 194.5,209.3 Z" fill="#101010"/>
<path d="M195.8,205.1 L208.6,205.5" stroke="#f0f0f0" stroke-width="1.7" stroke-linecap="round"/>
<rect x="191.4" y="216.8" width="31.2" height="4.5" fill="#1a1a1a"/>
<rect x="192.3" y="222.1" width="29.3" height="13.5" rx="3" fill="#4a4a4a"/>
<path d="M193,221.3 L201.7,221.3" stroke="#e8e8e8" stroke-width="1.6" stroke-linecap="round"/>
<path d="M210.1,221.7 L218.2,217.9" stroke="#e0e0e0" stroke-width="1.8" stroke-linecap="round"/>
<circle cx="197.6" cy="230" r="1.8" fill="#151515"/>
<rect x="222.6" y="198" width="28.8" height="37.6" rx="6.3" fill="#363636"/>
<path d="M225.5,209.3 Q225.5,203.3 231.2,203.3 L250,203.3 L250,213.8 L231.2,213.8 Q225.5,213.8 225.5,209.3 Z" fill="#101010"/>
<path d="M226.6,205.1 L238.4,205.5" stroke="#f0f0f0" stroke-width="1.7" stroke-linecap="round"/>
<rect x="222.6" y="216.8" width="28.8" height="4.5" fill="#1a1a1a"/>
<rect x="223.5" y="222.1" width="27.1" height="13.5" rx="3" fill="#4a4a4a"/>
<path d="M224,221.3 L232.1,221.3" stroke="#e8e8e8" stroke-width="1.6" stroke-linecap="round"/>
<path d="M239.9,221.7 L247.4,217.9" stroke="#e0e0e0" stroke-width="1.8" stroke-linecap="round"/>
<circle cx="228.4" cy="230" r="1.8" fill="#151515"/>
<circle cx="47" cy="200" r="7" fill="url(#glow)"/>
<path d="M47,200 L61.5,193.2" stroke="#fff" stroke-width="0.8" stroke-opacity="0.85"/>
<path d="M47,200 L34.3,205.9" stroke="#fff" stroke-width="0.8" stroke-opacity="0.85"/>
<path d="M47,200 L49.7,207.5" stroke="#fff" stroke-width="0.8" stroke-opacity="0.85"/>
<path d="M47,200 L44.3,192.5" stroke="#fff" stroke-width="0.8" stroke-opacity="0.85"/>
<circle cx="76" cy="212.6" r="7" fill="url(#glow)"/>
<path d="M76,212.6 L90.5,205.8" stroke="#fff" stroke-width="0.8" stroke-opacity="0.85"/>
<path d="M76,212.6 L63.3,218.5" stroke="#fff" stroke-width="0.8" stroke-opacity="0.85"/>
<path d="M76,212.6 L78.7,220.1" stroke="#fff" stroke-width="0.8" stroke-opacity="0.85"/>
<path d="M76,212.6 L73.3,205.1" stroke="#fff" stroke-width="0.8" stroke-opacity="0.85"/>
<circle cx="113" cy="212.6" r="7" fill="url(#glow)"/>
<path d="M113,212.6 L127.5,205.8" stroke="#fff" stroke-width="0.8" stroke-opacity="0.85"/>
<path d="M113,212.6 L100.3,218.5" stroke="#fff" stroke-width="0.8" stroke-opacity="0.85"/>
<path d="M113,212.6 L115.7,220.1" stroke="#fff" stroke-width="0.8" stroke-opacity="0.85"/>
<path d="M113,212.6 L110.3,205.1" stroke="#fff" stroke-width="0.8" stroke-opacity="0.85"/>
</g>
<circle cx="136.5" cy="170.5" r="119.3" fill="none" stroke="#111" stroke-width="2"/>
<circle cx="136.5" cy="472.5" r="119.3" fill="#fff"/>
<g clip-path="url(#c2)">
<path d="M80,352 L128,350 L130,378 L84,381 Z" fill="#3a3a3a"/>
<path d="M86,368 L112,367 L112,373 L86,374 Z" fill="#5a5a5a"/>
<path d="M26,410 L38,390 L58,384 L60,406 Z" fill="#333"/>
<g transform="translate(56,373.8) scale(1.1,0.8)">
<path d="M26,-4 L58,-6 L58,27 C52,31 44,31 38,26 Z" fill="#1a1a1a"/>
<path d="M29,-6 L50,-8 C54,4 57,14 56,22 C54,28 46,28 42,24 C37,12 32,2 29,-6 Z" fill="#5a5a5a"/>
<path d="M31,-5 L34,-6 C38,5 41,14 44,22 L41.5,23 C37,13 34,4 31,-5 Z" fill="#f2f2f2"/>
<path d="M0,30 C-3,40 -2,54 8,60 C20,65 45,65 60,63 C75,61 85,56 88,48 L84,48 C70,53 50,54 38,53 C25,52 13,49 7,44 C2,40 0,35 0,30 Z" fill="#2a2a2a"/>
<path d="M17,50 L33,53.5 L33,63 L17,61 Z" fill="#6e6e6e"/>
<path d="M0,30 C0,20 1,8 5,3 C8,0 14,0 27,0 C30,10 34,20 38.4,25.6 C44,30 53,30 57.4,26 L57.4,4 C63,2.5 70,2 75,2.4 C84,4 91,16 91.2,30 C91.4,40 89,46 84,48 C70,53 50,54 38,53 C25,52 13,49 7,44 C2,40 0,35 0,30 Z" fill="#484848"/>
</g>
<g transform="translate(86,418.4) scale(1,0.8)">
<path d="M26,-4 L58,-6 L58,27 C52,31 44,31 38,26 Z" fill="#1a1a1a"/>
<path d="M29,-6 L50,-8 C54,4 57,14 56,22 C54,28 46,28 42,24 C37,12 32,2 29,-6 Z" fill="#5a5a5a"/>
<path d="M31,-5 L34,-6 C38,5 41,14 44,22 L41.5,23 C37,13 34,4 31,-5 Z" fill="#f2f2f2"/>
<path d="M0,30 C-3,40 -2,54 8,60 C20,65 45,65 60,63 C75,61 85,56 88,48 L84,48 C70,53 50,54 38,53 C25,52 13,49 7,44 C2,40 0,35 0,30 Z" fill="#2a2a2a"/>
<path d="M17,50 L33,53.5 L33,63 L17,61 Z" fill="#6e6e6e"/>
<path d="M0,30 C0,20 1,8 5,3 C8,0 14,0 27,0 C30,10 34,20 38.4,25.6 C44,30 53,30 57.4,26 L57.4,4 C63,2.5 70,2 75,2.4 C84,4 91,16 91.2,30 C91.4,40 89,46 84,48 C70,53 50,54 38,53 C25,52 13,49 7,44 C2,40 0,35 0,30 Z" fill="#484848"/>
</g>
<g transform="translate(109.6,462.4) scale(1,1)">
<path d="M26,-4 L58,-6 L58,27 C52,31 44,31 38,26 Z" fill="#1a1a1a"/>
<path d="M29,-6 L50,-8 C54,4 57,14 56,22 C54,28 46,28 42,24 C37,12 32,2 29,-6 Z" fill="#5a5a5a"/>
<path d="M31,-5 L34,-6 C38,5 41,14 44,22 L41.5,23 C37,13 34,4 31,-5 Z" fill="#f2f2f2"/>
<path d="M0,30 C-3,40 -2,54 8,60 C20,65 45,65 60,63 C75,61 85,56 88,48 L84,48 C70,53 50,54 38,53 C25,52 13,49 7,44 C2,40 0,35 0,30 Z" fill="#2a2a2a"/>
<path d="M17,50 L33,53.5 L33,63 L17,61 Z" fill="#6e6e6e"/>
<path d="M0,30 C0,20 1,8 5,3 C8,0 14,0 27,0 C30,10 34,20 38.4,25.6 C44,30 53,30 57.4,26 L57.4,4 C63,2.5 70,2 75,2.4 C84,4 91,16 91.2,30 C91.4,40 89,46 84,48 C70,53 50,54 38,53 C25,52 13,49 7,44 C2,40 0,35 0,30 Z" fill="#484848"/>
</g>
<g transform="translate(124,522.5) scale(1,1)">
<path d="M26,-4 L58,-6 L58,27 C52,31 44,31 38,26 Z" fill="#1a1a1a"/>
<path d="M29,-6 L50,-8 C54,4 57,14 56,22 C54,28 46,28 42,24 C37,12 32,2 29,-6 Z" fill="#5a5a5a"/>
<path d="M31,-5 L34,-6 C38,5 41,14 44,22 L41.5,23 C37,13 34,4 31,-5 Z" fill="#f2f2f2"/>
<path d="M0,30 C-3,40 -2,54 8,60 C20,65 45,65 60,63 C75,61 85,56 88,48 L84,48 C70,53 50,54 38,53 C25,52 13,49 7,44 C2,40 0,35 0,30 Z" fill="#2a2a2a"/>
<path d="M17,50 L33,53.5 L33,63 L17,61 Z" fill="#6e6e6e"/>
<path d="M0,30 C0,20 1,8 5,3 C8,0 14,0 27,0 C30,10 34,20 38.4,25.6 C44,30 53,30 57.4,26 L57.4,4 C63,2.5 70,2 75,2.4 C84,4 91,16 91.2,30 C91.4,40 89,46 84,48 C70,53 50,54 38,53 C25,52 13,49 7,44 C2,40 0,35 0,30 Z" fill="#484848"/>
</g>
</g>
<circle cx="136.5" cy="472.5" r="119.3" fill="none" stroke="#111" stroke-width="1.6"/>
<circle cx="136.5" cy="775.5" r="119.3" fill="#fff"/>
<g clip-path="url(#c3)">
<use href="#adapter" transform="translate(38.8,740.75) scale(0.737)"/>
<use href="#dlink" transform="translate(105,795) scale(0.753,0.71)"/>
<use href="#dlink" transform="translate(105,820.5) scale(0.753,0.71)"/>
<use href="#dlink" transform="translate(105,846) scale(0.753,0.71)"/>
<use href="#dlink" transform="translate(105,871.5) scale(0.753,0.71)"/>
</g>
<circle cx="136.5" cy="775.5" r="119.3" fill="none" stroke="#111" stroke-width="1.6"/>
<rect x="706" y="110" width="15.6" height="420" fill="#1e1e1e"/>
<use href="#adapter" transform="translate(578,44)"/>
<use href="#dlink" transform="translate(671,116) scale(1.004,1)"/>
<use href="#dlink" transform="translate(671.2,150.7) scale(1.004,1)"/>
<use href="#dlink" transform="translate(671.4,185.4) scale(1.004,1)"/>
<use href="#dlink" transform="translate(671.6,220.1) scale(1.004,1)"/>
<use href="#dlink" transform="translate(671.8,254.8) scale(1.004,1)"/>
<use href="#dlink" transform="translate(672,289.5) scale(1.004,1)"/>
<use href="#dlink" transform="translate(672.1,324.2) scale(1.004,1)"/>
<use href="#dlink" transform="translate(672.3,358.9) scale(1.004,1)"/>
<use href="#dlink" transform="translate(672.5,393.6) scale(1.004,1)"/>
<use href="#dlink" transform="translate(672.7,428.3) scale(1.004,1)"/>
<use href="#dlink" transform="translate(672.9,463) scale(1.004,1)"/>
<use href="#dlink" transform="translate(673.1,497.7) scale(1.004,1)"/>
<rect x="706" y="520.4" width="15" height="28" rx="6" fill="url(#post)"/>
<rect x="706" y="569.6" width="15" height="28" rx="6" fill="url(#post)"/>
<rect x="706" y="618.8" width="15" height="28" rx="6" fill="url(#post)"/>
<rect x="706" y="668" width="15" height="28" rx="6" fill="url(#post)"/>
<use href="#leaf" transform="translate(683.6,530.4)"/>
<use href="#leaf" transform="translate(683.6,579.6)"/>
<use href="#leaf" transform="translate(683.6,628.8)"/>
<use href="#leaf" transform="translate(683.6,678)"/>
<rect x="706" y="720" width="15" height="30" rx="6" fill="url(#post)"/>
<rect x="706.6" y="780" width="24.6" height="81.6" rx="2" fill="url(#tongue)" stroke="#666" stroke-width="0.6"/>
<use href="#hclasp" transform="translate(686,725.5)"/>
<rect x="706.6" y="780" width="24.6" height="81.6" rx="2" fill="url(#tongue)" stroke="#666" stroke-width="0.6"/>
<rect x="852" y="250" width="15.6" height="650" fill="#1e1e1e"/>
<use href="#hclasp" transform="translate(828.4,290) scale(1,-1)"/>
<rect x="843.6" y="207.6" width="32.8" height="7" fill="#9a9a9a"/><rect x="843.6" y="209" width="32.8" height="2" fill="#e0e0e0"/>
<rect x="852" y="278.4" width="15" height="28" rx="6" fill="url(#post)"/>
<rect x="852" y="327.6" width="15" height="28" rx="6" fill="url(#post)"/>
<rect x="852" y="376.8" width="15" height="28" rx="6" fill="url(#post)"/>
<rect x="852" y="426" width="15" height="28" rx="6" fill="url(#post)"/>
<use href="#leaf" transform="translate(827.6,338.8) scale(1,-1)"/>
<use href="#leaf" transform="translate(827.6,388) scale(1,-1)"/>
<use href="#leaf" transform="translate(827.6,437.2) scale(1,-1)"/>
<use href="#leaf" transform="translate(827.6,486.4) scale(1,-1)"/>
<use href="#dlink" transform="translate(817.6,486) scale(1.0,1)"/>
<use href="#dlink" transform="translate(817.7,520.7) scale(1.0,1)"/>
<use href="#dlink" transform="translate(817.8,555.4) scale(1.0,1)"/>
<use href="#dlink" transform="translate(818,590.1) scale(1.0,1)"/>
<use href="#dlink" transform="translate(818.1,624.8) scale(1.0,1)"/>
<use href="#dlink" transform="translate(818.2,659.5) scale(1.0,1)"/>
<use href="#dlink" transform="translate(818.3,694.2) scale(1.0,1)"/>
<use href="#dlink" transform="translate(818.4,728.9) scale(1.0,1)"/>
<use href="#dlink" transform="translate(818.6,763.6) scale(1.0,1)"/>
<use href="#dlink" transform="translate(818.7,798.3) scale(1.0,1)"/>
<use href="#dlink" transform="translate(818.8,833) scale(1.0,1)"/>
<use href="#dlink" transform="translate(818.9,867.7) scale(1.0,1)"/>
<use href="#adapter" transform="translate(727,971) scale(1,-1)"/>
<circle cx="698.1" cy="131.5" r="12" fill="url(#glow)"/>
<path d="M698.1,131.5 L711.1,109" stroke="#fff" stroke-width="0.9" stroke-opacity="0.9"/>
<path d="M698.1,131.5 L718,140.8" stroke="#fff" stroke-width="0.9" stroke-opacity="0.9"/>
<path d="M698.1,131.5 L686.1,152.3" stroke="#fff" stroke-width="0.9" stroke-opacity="0.9"/>
<path d="M698.1,131.5 L680,123" stroke="#fff" stroke-width="0.9" stroke-opacity="0.9"/>
<circle cx="730.7" cy="200.9" r="12" fill="url(#glow)"/>
<path d="M730.7,200.9 L743.7,178.4" stroke="#fff" stroke-width="0.9" stroke-opacity="0.9"/>
<path d="M730.7,200.9 L750.6,210.2" stroke="#fff" stroke-width="0.9" stroke-opacity="0.9"/>
<path d="M730.7,200.9 L718.7,221.7" stroke="#fff" stroke-width="0.9" stroke-opacity="0.9"/>
<path d="M730.7,200.9 L712.6,192.4" stroke="#fff" stroke-width="0.9" stroke-opacity="0.9"/>
<circle cx="698.7" cy="235.6" r="12" fill="url(#glow)"/>
<path d="M698.7,235.6 L711.7,213.1" stroke="#fff" stroke-width="0.9" stroke-opacity="0.9"/>
<path d="M698.7,235.6 L718.6,244.9" stroke="#fff" stroke-width="0.9" stroke-opacity="0.9"/>
<path d="M698.7,235.6 L686.7,256.4" stroke="#fff" stroke-width="0.9" stroke-opacity="0.9"/>
<path d="M698.7,235.6 L680.5,227.1" stroke="#fff" stroke-width="0.9" stroke-opacity="0.9"/>
<circle cx="699.1" cy="305" r="12" fill="url(#glow)"/>
<path d="M699.1,305 L712.1,282.5" stroke="#fff" stroke-width="0.9" stroke-opacity="0.9"/>
<path d="M699.1,305 L719,314.3" stroke="#fff" stroke-width="0.9" stroke-opacity="0.9"/>
<path d="M699.1,305 L687.1,325.8" stroke="#fff" stroke-width="0.9" stroke-opacity="0.9"/>
<path d="M699.1,305 L680.9,296.5" stroke="#fff" stroke-width="0.9" stroke-opacity="0.9"/>
<circle cx="731.6" cy="374.4" r="12" fill="url(#glow)"/>
<path d="M731.6,374.4 L744.6,351.9" stroke="#fff" stroke-width="0.9" stroke-opacity="0.9"/>
<path d="M731.6,374.4 L751.6,383.7" stroke="#fff" stroke-width="0.9" stroke-opacity="0.9"/>
<path d="M731.6,374.4 L719.6,395.2" stroke="#fff" stroke-width="0.9" stroke-opacity="0.9"/>
<path d="M731.6,374.4 L713.5,365.9" stroke="#fff" stroke-width="0.9" stroke-opacity="0.9"/>
<circle cx="699.6" cy="409.1" r="12" fill="url(#glow)"/>
<path d="M699.6,409.1 L712.6,386.6" stroke="#fff" stroke-width="0.9" stroke-opacity="0.9"/>
<path d="M699.6,409.1 L719.6,418.4" stroke="#fff" stroke-width="0.9" stroke-opacity="0.9"/>
<path d="M699.6,409.1 L687.6,429.9" stroke="#fff" stroke-width="0.9" stroke-opacity="0.9"/>
<path d="M699.6,409.1 L681.5,400.6" stroke="#fff" stroke-width="0.9" stroke-opacity="0.9"/>
<circle cx="732" cy="443.8" r="12" fill="url(#glow)"/>
<path d="M732,443.8 L745,421.3" stroke="#fff" stroke-width="0.9" stroke-opacity="0.9"/>
<path d="M732,443.8 L751.9,453.1" stroke="#fff" stroke-width="0.9" stroke-opacity="0.9"/>
<path d="M732,443.8 L720,464.6" stroke="#fff" stroke-width="0.9" stroke-opacity="0.9"/>
<path d="M732,443.8 L713.9,435.3" stroke="#fff" stroke-width="0.9" stroke-opacity="0.9"/>
<circle cx="700.2" cy="513.2" r="12" fill="url(#glow)"/>
<path d="M700.2,513.2 L713.2,490.7" stroke="#fff" stroke-width="0.9" stroke-opacity="0.9"/>
<path d="M700.2,513.2 L720.1,522.5" stroke="#fff" stroke-width="0.9" stroke-opacity="0.9"/>
<path d="M700.2,513.2 L688.2,534" stroke="#fff" stroke-width="0.9" stroke-opacity="0.9"/>
<path d="M700.2,513.2 L682.1,504.7" stroke="#fff" stroke-width="0.9" stroke-opacity="0.9"/>
<circle cx="844.6" cy="501.5" r="12" fill="url(#glow)"/>
<path d="M844.6,501.5 L857.6,479" stroke="#fff" stroke-width="0.9" stroke-opacity="0.9"/>
<path d="M844.6,501.5 L864.5,510.8" stroke="#fff" stroke-width="0.9" stroke-opacity="0.9"/>
<path d="M844.6,501.5 L832.6,522.3" stroke="#fff" stroke-width="0.9" stroke-opacity="0.9"/>
<path d="M844.6,501.5 L826.5,493" stroke="#fff" stroke-width="0.9" stroke-opacity="0.9"/>
<circle cx="844.8" cy="570.9" r="12" fill="url(#glow)"/>
<path d="M844.8,570.9 L857.8,548.4" stroke="#fff" stroke-width="0.9" stroke-opacity="0.9"/>
<path d="M844.8,570.9 L864.8,580.2" stroke="#fff" stroke-width="0.9" stroke-opacity="0.9"/>
<path d="M844.8,570.9 L832.8,591.7" stroke="#fff" stroke-width="0.9" stroke-opacity="0.9"/>
<path d="M844.8,570.9 L826.7,562.4" stroke="#fff" stroke-width="0.9" stroke-opacity="0.9"/>
<circle cx="877" cy="605.6" r="12" fill="url(#glow)"/>
<path d="M877,605.6 L890,583.1" stroke="#fff" stroke-width="0.9" stroke-opacity="0.9"/>
<path d="M877,605.6 L896.9,614.9" stroke="#fff" stroke-width="0.9" stroke-opacity="0.9"/>
<path d="M877,605.6 L865,626.4" stroke="#fff" stroke-width="0.9" stroke-opacity="0.9"/>
<path d="M877,605.6 L858.8,597.1" stroke="#fff" stroke-width="0.9" stroke-opacity="0.9"/>
<circle cx="845.2" cy="675" r="12" fill="url(#glow)"/>
<path d="M845.2,675 L858.2,652.5" stroke="#fff" stroke-width="0.9" stroke-opacity="0.9"/>
<path d="M845.2,675 L865.1,684.3" stroke="#fff" stroke-width="0.9" stroke-opacity="0.9"/>
<path d="M845.2,675 L833.2,695.8" stroke="#fff" stroke-width="0.9" stroke-opacity="0.9"/>
<path d="M845.2,675 L827.1,666.5" stroke="#fff" stroke-width="0.9" stroke-opacity="0.9"/>
<circle cx="877.4" cy="744.4" r="12" fill="url(#glow)"/>
<path d="M877.4,744.4 L890.4,721.9" stroke="#fff" stroke-width="0.9" stroke-opacity="0.9"/>
<path d="M877.4,744.4 L897.4,753.7" stroke="#fff" stroke-width="0.9" stroke-opacity="0.9"/>
<path d="M877.4,744.4 L865.4,765.2" stroke="#fff" stroke-width="0.9" stroke-opacity="0.9"/>
<path d="M877.4,744.4 L859.3,735.9" stroke="#fff" stroke-width="0.9" stroke-opacity="0.9"/>
<circle cx="845.6" cy="779.1" r="12" fill="url(#glow)"/>
<path d="M845.6,779.1 L858.6,756.6" stroke="#fff" stroke-width="0.9" stroke-opacity="0.9"/>
<path d="M845.6,779.1 L865.5,788.4" stroke="#fff" stroke-width="0.9" stroke-opacity="0.9"/>
<path d="M845.6,779.1 L833.6,799.9" stroke="#fff" stroke-width="0.9" stroke-opacity="0.9"/>
<path d="M845.6,779.1 L827.4,770.6" stroke="#fff" stroke-width="0.9" stroke-opacity="0.9"/>
<circle cx="845.8" cy="848.5" r="12" fill="url(#glow)"/>
<path d="M845.8,848.5 L858.8,826" stroke="#fff" stroke-width="0.9" stroke-opacity="0.9"/>
<path d="M845.8,848.5 L865.7,857.8" stroke="#fff" stroke-width="0.9" stroke-opacity="0.9"/>
<path d="M845.8,848.5 L833.8,869.3" stroke="#fff" stroke-width="0.9" stroke-opacity="0.9"/>
<path d="M845.8,848.5 L827.7,840" stroke="#fff" stroke-width="0.9" stroke-opacity="0.9"/>
<circle cx="877.9" cy="883.2" r="12" fill="url(#glow)"/>
<path d="M877.9,883.2 L890.9,860.7" stroke="#fff" stroke-width="0.9" stroke-opacity="0.9"/>
<path d="M877.9,883.2 L897.9,892.5" stroke="#fff" stroke-width="0.9" stroke-opacity="0.9"/>
<path d="M877.9,883.2 L865.9,904" stroke="#fff" stroke-width="0.9" stroke-opacity="0.9"/>
<path d="M877.9,883.2 L859.8,874.7" stroke="#fff" stroke-width="0.9" stroke-opacity="0.9"/>
<g clip-path="url(#c3)">
<circle cx="125" cy="806" r="9" fill="url(#glow)"/>
<path d="M125,806 L134,790.4" stroke="#fff" stroke-width="0.9" stroke-opacity="0.9"/>
<path d="M125,806 L138.6,812.3" stroke="#fff" stroke-width="0.9" stroke-opacity="0.9"/>
<path d="M125,806 L117,819.9" stroke="#fff" stroke-width="0.9" stroke-opacity="0.9"/>
<path d="M125,806 L112.3,800.1" stroke="#fff" stroke-width="0.9" stroke-opacity="0.9"/>
<circle cx="149" cy="857" r="9" fill="url(#glow)"/>
<path d="M149,857 L158,841.4" stroke="#fff" stroke-width="0.9" stroke-opacity="0.9"/>
<path d="M149,857 L162.6,863.3" stroke="#fff" stroke-width="0.9" stroke-opacity="0.9"/>
<path d="M149,857 L141,870.9" stroke="#fff" stroke-width="0.9" stroke-opacity="0.9"/>
<path d="M149,857 L136.3,851.1" stroke="#fff" stroke-width="0.9" stroke-opacity="0.9"/>
<circle cx="125" cy="880" r="9" fill="url(#glow)"/>
<path d="M125,880 L134,864.4" stroke="#fff" stroke-width="0.9" stroke-opacity="0.9"/>
<path d="M125,880 L138.6,886.3" stroke="#fff" stroke-width="0.9" stroke-opacity="0.9"/>
<path d="M125,880 L117,893.9" stroke="#fff" stroke-width="0.9" stroke-opacity="0.9"/>
<path d="M125,880 L112.3,874.1" stroke="#fff" stroke-width="0.9" stroke-opacity="0.9"/>
</g>
<text x="263.3" y="166.5" font-family="Liberation Serif" font-size="43.5" textLength="321.2" lengthAdjust="spacingAndGlyphs" fill="#0a0a0a" stroke="#0a0a0a" stroke-width="1.3">Removable HLinks</text>
<text x="262.9" y="213.3" font-family="Liberation Serif" font-size="31" textLength="367.6" lengthAdjust="spacingAndGlyphs" fill="#0a0a0a">Easy to adjust to the right size</text>
<text x="263.3" y="428.5" font-family="Liberation Serif" font-size="43.5" textLength="337.2" lengthAdjust="spacingAndGlyphs" fill="#0a0a0a" stroke="#0a0a0a" stroke-width="1.3">Irremovable leafage</text>
<text x="264" y="472.6" font-family="Liberation Serif" font-size="31" textLength="313" lengthAdjust="spacingAndGlyphs" fill="#0a0a0a">Blend the current popular</text>
<text x="263.5" y="515.4" font-family="Liberation Serif" font-size="31" textLength="285.5" lengthAdjust="spacingAndGlyphs" fill="#0a0a0a">fashionelement into the</text>
<text x="265.4" y="558" font-family="Liberation Serif" font-size="31" textLength="329.8" lengthAdjust="spacingAndGlyphs" fill="#0a0a0a">watch band designvery chic</text>
<text x="263.6" y="600.4" font-family="Liberation Serif" font-size="31" textLength="165.9" lengthAdjust="spacingAndGlyphs" fill="#0a0a0a">and gorgeous.</text>
<text x="261.2" y="768.5" font-family="Liberation Serif" font-size="43.5" textLength="415.8" lengthAdjust="spacingAndGlyphs" fill="#0a0a0a" stroke="#0a0a0a" stroke-width="1.3">Stainless Steel Adapters</text>
<text x="263" y="813.2" font-family="Liberation Serif" font-size="31" textLength="262" lengthAdjust="spacingAndGlyphs" fill="#0a0a0a">Polished to guarantee</text>
<text x="263.5" y="856" font-family="Liberation Serif" font-size="31" textLength="221.5" lengthAdjust="spacingAndGlyphs" fill="#0a0a0a">smooth connection</text>
<text x="265" y="899" font-family="Liberation Serif" font-size="31" textLength="200" lengthAdjust="spacingAndGlyphs" fill="#0a0a0a">with vour watch.</text>
</svg>
</body></html>
